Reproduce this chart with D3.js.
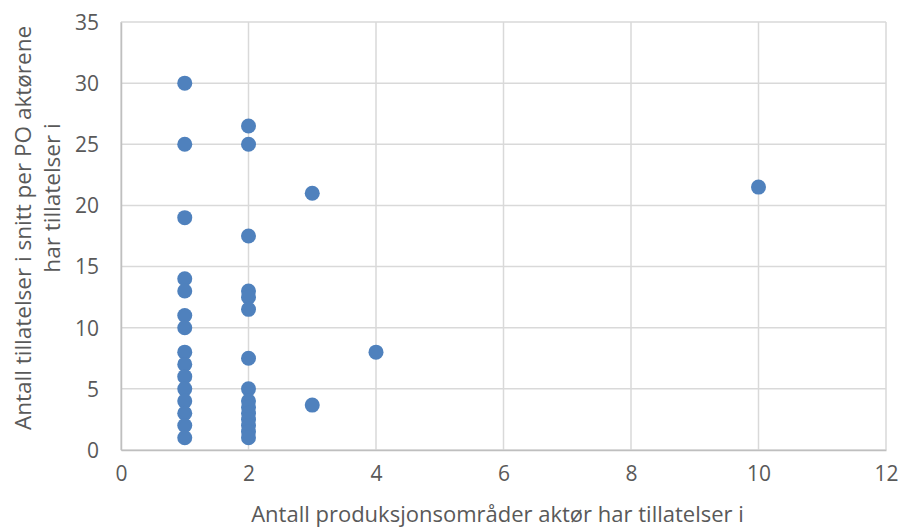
<!DOCTYPE html>
<html>
<head>
<meta charset="utf-8">
<script src="https://cdn.jsdelivr.net/npm/d3@7"></script>
<style>
  body { margin: 0; background: #fff; }
  text { font-family: "Open Sans", sans-serif; fill: #595959; }
</style>
</head>
<body>
<div class="canva"></div>
<script>
const width = 901
const height = 531

// number of production areas (x) and avg permits per PO (y)
const xValues = [1, 1, 1, 1, 1, 1, 1, 1, 1, 1, 1, 1, 1, 1, 1,
  2, 2, 2, 2, 2, 2, 2, 2, 2, 2, 2, 2, 2, 2, 2,
  3, 3, 4, 10]
const yValues = [30, 25, 19, 14, 13, 11, 10, 8, 7, 6, 5, 4, 3, 2, 1,
  26.5, 25, 17.5, 13, 12.5, 11.5, 7.5, 5, 4, 3.5, 3, 2.5, 2, 1.5, 1,
  21, 3.67, 8, 21.5]
const xTicks = [0, 2, 4, 6, 8, 10, 12]
const yTicks = [0, 5, 10, 15, 20, 25, 30, 35]
const xTitle = "Antall produksjonsområder aktør har tillatelser i"
const yTitle = ["Antall tillatelser i snitt per PO aktørene", "har tillatelser i"]

const margin = { left: 121, right: 15, top: 22, bottom: 81 }

const svg = d3.select(".canva").append("svg").attr("width", width).attr("height", height)

const x = d3.scaleLinear().domain([0, 12]).range([margin.left, width - margin.right])
const y = d3.scaleLinear().domain([0, 35]).range([height - margin.bottom, margin.top])

//gridlines
svg.append("g")
  .selectAll("line.h")
  .data(yTicks)
  .enter()
  .append("line")
  .attr("x1", x(0)).attr("x2", x(12))
  .attr("y1", d => y(d)).attr("y2", d => y(d))
  .attr("stroke", "#d9d9d9").attr("stroke-width", 1.5)
svg.append("g")
  .selectAll("line.v")
  .data(xTicks)
  .enter()
  .append("line")
  .attr("x1", d => x(d)).attr("x2", d => x(d))
  .attr("y1", y(0)).attr("y2", y(35))
  .attr("stroke", "#d9d9d9").attr("stroke-width", 1.5)

//axes (labels only)
const xAxis = svg.append("g")
  .attr("transform", `translate(0,${y(0)})`)
  .call(d3.axisBottom(x).tickValues(xTicks).tickSize(0).tickPadding(24))
const yAxis = svg.append("g")
  .attr("transform", `translate(${x(0)},0)`)
  .call(d3.axisLeft(y).tickValues(yTicks).tickSize(0).tickPadding(22))
;[xAxis, yAxis].forEach(a => {
  a.select(".domain").attr("stroke", "#bfbfbf").attr("stroke-width", 1.5)
  a.selectAll("text").style("font-size", "21px").attr("fill", "#595959")
})
xAxis.selectAll("text").attr("dy", "0.35em")
yAxis.selectAll("text").attr("dy", "0.35em")

//points
const pts = xValues.map((v, i) => ({ x: v, y: yValues[i] }))
svg.append("g")
  .selectAll("circle")
  .data(pts)
  .enter()
  .append("circle")
  .attr("cx", d => x(d.x))
  .attr("cy", d => y(d.y))
  .attr("r", 7.5)
  .attr("fill", "#4f81bd")

//titles
svg.append("text")
  .attr("x", (x(0) + x(12)) / 2 - 6)
  .attr("y", 522)
  .attr("text-anchor", "middle")
  .style("font-size", "22px")
  .text(xTitle)
const yTitlePos = [{ c: 228, b: 31 }, { c: 198, b: 60 }]
svg.append("g")
  .selectAll("text")
  .data(yTitle)
  .enter()
  .append("text")
  .attr("transform", (d, i) => `translate(${yTitlePos[i].b},${yTitlePos[i].c}) rotate(-90)`)
  .attr("text-anchor", "middle")
  .style("font-size", "22.5px")
  .text(d => d)
</script>
</body>
</html>
